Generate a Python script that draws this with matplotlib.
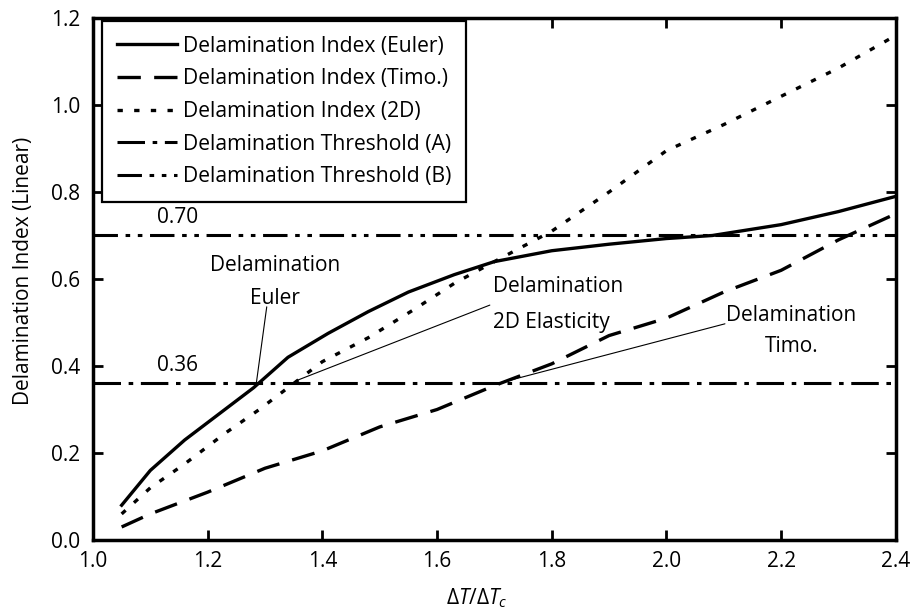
import matplotlib
matplotlib.use('Agg')
import matplotlib.pyplot as plt

plt.rcParams['font.family'] = ['Open Sans', 'DejaVu Sans']
plt.rcParams['mathtext.fontset'] = 'custom'
plt.rcParams['mathtext.rm'] = 'Open Sans'
plt.rcParams['mathtext.it'] = 'Open Sans:italic'

FS = 15

# Euler beam model
x_euler = [1.05, 1.10, 1.16, 1.22, 1.28, 1.34, 1.41, 1.48, 1.55, 1.63, 1.70,
           1.80, 1.90, 2.00, 2.08, 2.20, 2.30, 2.40]
y_euler = [0.08, 0.16, 0.23, 0.29, 0.35, 0.42, 0.475, 0.525, 0.57, 0.61, 0.64,
           0.665, 0.68, 0.693, 0.70, 0.725, 0.755, 0.79]

# Timoshenko beam model
x_timo = [1.05, 1.10, 1.20, 1.30, 1.40, 1.50, 1.60, 1.70, 1.80, 1.90, 2.00,
          2.10, 2.20, 2.30, 2.40]
y_timo = [0.03, 0.06, 0.11, 0.165, 0.205, 0.26, 0.30, 0.355, 0.405, 0.47, 0.51,
          0.57, 0.62, 0.69, 0.75]

# 2D elasticity
x_2d = [1.05, 1.10, 1.16, 1.23, 1.29, 1.34, 1.40, 1.48, 1.56, 1.63, 1.70,
        1.80, 1.90, 2.00, 2.10, 2.20, 2.30, 2.40]
y_2d = [0.06, 0.12, 0.175, 0.245, 0.30, 0.35, 0.41, 0.465, 0.53, 0.59, 0.64,
        0.71, 0.80, 0.895, 0.955, 1.02, 1.085, 1.16]

thr_a = 0.36
thr_b = 0.70

fig = plt.figure(figsize=(9.16, 6.14), dpi=100)
ax = fig.add_axes([0.1015, 0.1205, 0.8765, 0.8502])

ax.plot(x_euler, y_euler, color='black', lw=2.4, ls='-',
        label='Delamination Index (Euler)')
ax.plot(x_timo, y_timo, color='black', lw=2.4, ls=(0, (7, 4)),
        label='Delamination Index (Timo.)')
ax.plot(x_2d, y_2d, color='black', lw=2.4, ls=(0, (1.6, 3.4)),
        label='Delamination Index (2D)')
ax.axhline(thr_a, color='black', lw=2.2, ls=(0, (9, 2.5, 1.5, 2.5)),
           label='Delamination Threshold (A)')
ax.axhline(thr_b, color='black', lw=2.2, ls=(0, (8, 2.5, 1.5, 2.5, 1.5, 2.5)),
           label='Delamination Threshold (B)')

ax.text(1.147, thr_b + 0.018, '%.2f' % thr_b, fontsize=FS, ha='center', va='bottom')
ax.text(1.147, thr_a + 0.018, '%.2f' % thr_a, fontsize=FS, ha='center', va='bottom')

# crossing-point labels with thin leader lines
ax.text(1.317, 0.632, 'Delamination', fontsize=FS, ha='center', va='center')
ax.text(1.317, 0.556, 'Euler', fontsize=FS, ha='center', va='center')
ax.annotate('', xy=(1.285, 0.362), xytext=(1.303, 0.536),
            arrowprops=dict(arrowstyle='-', lw=0.8, color='black',
                            shrinkA=0, shrinkB=0))

ax.text(1.697, 0.582, 'Delamination', fontsize=FS, ha='left', va='center')
ax.text(1.697, 0.501, '2D Elasticity', fontsize=FS, ha='left', va='center')
ax.annotate('', xy=(1.354, 0.366), xytext=(1.692, 0.540),
            arrowprops=dict(arrowstyle='-', lw=0.8, color='black',
                            shrinkA=0, shrinkB=0))

ax.text(2.218, 0.517, 'Delamination', fontsize=FS, ha='center', va='center')
ax.text(2.218, 0.444, 'Timo.', fontsize=FS, ha='center', va='center')
ax.annotate('', xy=(1.712, 0.362), xytext=(2.102, 0.497),
            arrowprops=dict(arrowstyle='-', lw=0.8, color='black',
                            shrinkA=0, shrinkB=0))

ax.set_xlim(1.0, 2.4)
ax.set_ylim(0.0, 1.2)
ax.set_xticks([1.0, 1.2, 1.4, 1.6, 1.8, 2.0, 2.2, 2.4])
ax.set_yticks([0.0, 0.2, 0.4, 0.6, 0.8, 1.0, 1.2])
ax.xaxis.set_major_formatter(matplotlib.ticker.FormatStrFormatter('%.1f'))
ax.yaxis.set_major_formatter(matplotlib.ticker.FormatStrFormatter('%.1f'))
ax.tick_params(direction='in', length=7, width=2, labelsize=FS,
               top=True, right=True)
ax.tick_params(axis='x', pad=8)
ax.tick_params(axis='y', pad=9)
for s in ax.spines.values():
    s.set_linewidth(2.5)

ax.set_xlabel(r'$\Delta T/\Delta T_c$', fontsize=FS)
ax.xaxis.set_label_coords(0.478, -0.088)
ax.set_ylabel('Delamination Index (Linear)', fontsize=FS)
ax.yaxis.set_label_coords(-0.074, 0.515)

leg = ax.legend(loc='upper left', bbox_to_anchor=(0.0112, 0.9943),
                fontsize=15.2, handlelength=2.85, handletextpad=0.3,
                fancybox=False, framealpha=1, edgecolor='black',
                borderpad=0.7, labelspacing=0.55, borderaxespad=0)
leg.get_frame().set_linewidth(1.6)

fig.savefig('out.png', dpi=100)
